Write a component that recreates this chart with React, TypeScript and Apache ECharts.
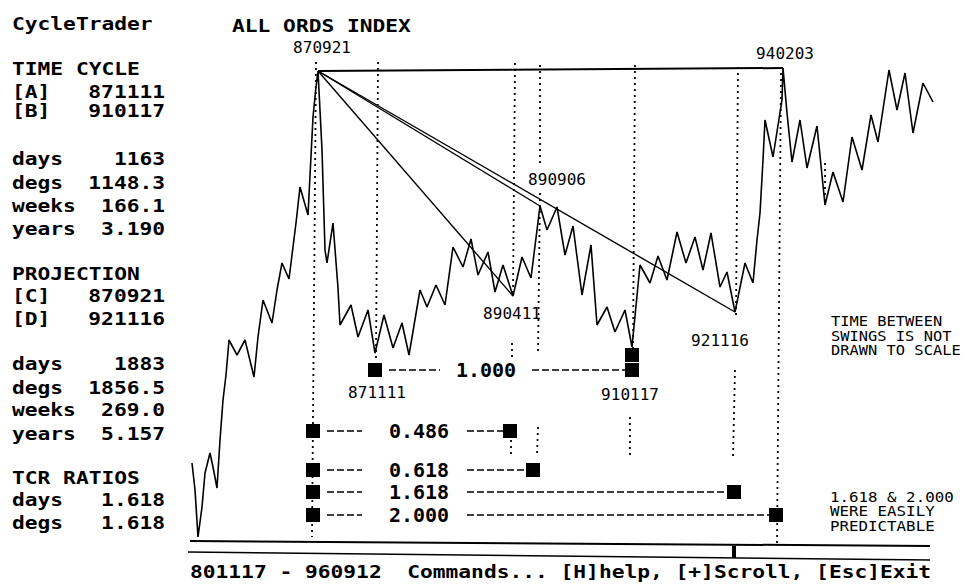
import React, { useEffect, useRef } from "react";
import * as echarts from "echarts";

// ---- DATA ----
// time index (chart units from 801117) and index level (chart units)
const priceT = [2,5,8,12,15,20,23,27,30,33,36,39,47,55,64,68,73,82,87,92,99,106,110,118,123,126,128,132,135,137,143,148,150,161,168,178,185,194,203,212,219,230,237,246,255,263,273,281,288,298,305,313,323,332,341,350,357,367,375,383,392,401,407,417,425,435,442,450,460,468,477,487,496,505,513,521,530,537,545,555,563,567,570,573,575,583,592,593,597,602,610,617,627,635,643,653,662,672,681,688,699,707,715,723,733,743];
const priceLevel = [82,55,8,38,72,92,78,57,105,145,170,205,190,205,168,208,245,222,255,282,266,322,358,330,428,458,474,395,295,282,322,257,220,240,208,235,192,230,197,222,190,255,238,260,240,298,278,306,270,293,253,280,249,288,267,339,315,338,290,319,250,300,220,238,213,235,198,280,262,289,265,313,282,308,275,312,258,273,233,282,262,305,332,385,425,388,445,477,432,383,425,377,419,340,373,343,408,375,430,403,475,435,472,412,462,443];

const swingNames = ["870921", "871111", "890411", "890906", "910117", "921116", "940203"];
const swingT = [128, 185, 323, 350, 442, 545, 593];

// dotted time markers: [tTop, levelTop, tBottom, levelBottom]
const dottedSegments = [
  [126, 483, 122, 8],
  [188, 483, 186, 185],
  [325, 482, 323, 249],
  [322, 202, 322, 188],
  [321, 105, 321, 90],
  [350, 480, 350, 380],
  [350, 352, 348, 193],
  [348, 118, 347, 90],
  [445, 480, 443, 195],
  [440, 128, 440, 88],
  [548, 478, 546, 228],
  [545, 175, 543, 88],
  [591, 472, 587, 2],
  [635, 382, 635, 345],
];

const ratioLabels = ["1.000", "0.486", "0.618", "1.618", "2.000"];
const ratioLevel = [175, 114, 75, 53, 30];
const ratioFromT = [185, 123, 123, 123, 123];
const ratioToT = [442, 320, 343, 544, 586];
const lowMarker = [442, 190];

const panelRows: [string, string][] = [
  ["CycleTrader", ""],
  ["TIME CYCLE", ""],
  ["[A]", "871111"],
  ["[B]", "910117"],
  ["days", "1163"],
  ["degs", "1148.3"],
  ["weeks", "166.1"],
  ["years", "3.190"],
  ["PROJECTION", ""],
  ["[C]", "870921"],
  ["[D]", "921116"],
  ["days", "1883"],
  ["degs", "1856.5"],
  ["weeks", "269.0"],
  ["years", "5.157"],
  ["TCR RATIOS", ""],
  ["days", "1.618"],
  ["degs", "1.618"],
];

const titleText = "ALL ORDS INDEX";
const footerText = "801117 - 960912  Commands... [H]help, [+]Scroll, [Esc]Exit";
const noteScale = ["TIME BETWEEN", "SWINGS IS NOT", "DRAWN TO SCALE"];
const notePredict = ["1.618 & 2.000", "WERE EASILY", "PREDICTABLE"];

// ---- LAYOUT / STYLE ----
const MONO = '"DejaVu Sans Mono", monospace';
const panelY = [24, 69, 92, 111, 159, 183, 206, 229, 274, 296, 319, 364, 388, 410, 434, 478, 500, 523];
const swingLabelOffsets = [[4, -24], [2, 39], [-1, 17], [17, -27], [-2, 47], [-15, 28], [2, -15]];
const rowTextT = [296, 229, 229, 229, 229];
const rowGapL = [46, 57, 57, 57, 57];
const rowGapR = [46, 48, 48, 48, 48];

function text(x: number, y: number, t: string, o: any = {}) {
  const align = o.align || "left";
  const va = o.va || "middle";
  return {
    type: "text",
    x,
    y,
    scaleX: o.scaleX ?? 1,
    silent: true,
    z: 10,
    style: {
      text: t,
      fill: "#000",
      fontFamily: MONO,
      fontSize: o.size ?? 18,
      fontWeight: o.weight ?? "bold",
      align,
      textAlign: align,
      verticalAlign: va,
      textVerticalAlign: va,
    },
  };
}

function buildOption() {
  const black = "#000";
  const lvl = (t: number) => priceLevel[priceT.indexOf(t)];
  const swingPts = swingT.map((t) => [t, lvl(t)]);
  const series: any[] = [];

  series.push({
    type: "line",
    name: "ALL ORDS",
    data: priceT.map((t, i) => [t, priceLevel[i]]),
    symbol: "none",
    lineStyle: { color: black, width: 1.6 },
    clip: false,
    silent: true,
    z: 3,
  });

  // top line (870921 -> 940203) and fan lines from 870921
  [6, 2, 3, 5].forEach((k) =>
    series.push({
      type: "line",
      data: [swingPts[0], swingPts[k]],
      symbol: "none",
      lineStyle: { color: black, width: k === 6 ? 2 : 1.4 },
      clip: false,
      silent: true,
      z: 2,
    })
  );

  dottedSegments.forEach((s) =>
    series.push({
      type: "line",
      data: [[s[0], s[1]], [s[2], s[3]]],
      symbol: "none",
      lineStyle: { color: black, width: 1.8, type: [2, 4] },
      clip: false,
      silent: true,
      z: 1,
    })
  );

  // ratio rows: dashed connectors
  ratioLabels.forEach((_, i) => {
    const lv = ratioLevel[i];
    const left = [[ratioFromT[i] + 14, lv], [rowTextT[i] - rowGapL[i], lv]];
    const right = [[rowTextT[i] + rowGapR[i], lv], [ratioToT[i] - 7, lv]];
    [left, right].forEach((d) =>
      series.push({
        type: "line",
        data: d,
        symbol: "none",
        lineStyle: { color: black, width: 1.5, type: [7, 3] },
        clip: false,
        silent: true,
        z: 2,
      })
    );
  });

  // squares
  const squares: number[][] = [];
  ratioLabels.forEach((_, i) => {
    squares.push([ratioFromT[i], ratioLevel[i]]);
    squares.push([ratioToT[i], ratioLevel[i]]);
  });
  squares.push(lowMarker);
  series.push({
    type: "scatter",
    data: squares,
    symbol: "rect",
    symbolSize: 14,
    itemStyle: { color: black, opacity: 1 },
    clip: false,
    silent: true,
    z: 5,
  });

  // ratio labels
  series.push({
    type: "scatter",
    data: ratioLabels.map((r, i) => ({ value: [rowTextT[i], ratioLevel[i]], name: r })),
    symbolSize: 1,
    itemStyle: { color: "rgba(0,0,0,0)", opacity: 1 },
    label: {
      show: true,
      position: "inside",
      formatter: (p: any) => p.name,
      color: black,
      opacity: 1,
      fontFamily: MONO,
      fontWeight: "bold",
      fontSize: 20,
    },
    clip: false,
    silent: true,
    z: 6,
  });

  // swing date labels
  series.push({
    type: "scatter",
    data: swingNames.map((n, i) => ({
      value: swingPts[i],
      name: n,
      label: { offset: swingLabelOffsets[i] },
    })),
    symbolSize: 1,
    itemStyle: { color: "rgba(0,0,0,0)", opacity: 1 },
    label: {
      show: true,
      position: "inside",
      formatter: (p: any) => p.name,
      color: black,
      opacity: 1,
      fontFamily: MONO,
      fontWeight: "normal",
      fontSize: 16,
    },
    clip: false,
    silent: true,
    z: 6,
  });

  const graphic: any[] = [];
  panelRows.forEach(([a, b], i) => {
    graphic.push(text(12, panelY[i], a, { scaleX: 1.18 }));
    if (b) graphic.push(text(165, panelY[i], b, { scaleX: 1.18, align: "right" }));
  });
  graphic.push(text(232, 26, titleText, { scaleX: 1.18 }));
  graphic.push(text(190, 572, footerText, { scaleX: 1.18 }));
  noteScale.forEach((s, i) =>
    graphic.push(text(831, 321 + i * 14.5, s, { size: 14, weight: "normal", scaleX: 1.1 }))
  );
  notePredict.forEach((s, i) =>
    graphic.push(text(830, 497 + i * 14.5, s, { size: 14, weight: "normal", scaleX: 1.13 }))
  );
  graphic.push({
    type: "line",
    silent: true,
    shape: { x1: 190, y1: 541, x2: 930, y2: 546 },
    style: { stroke: black, lineWidth: 2 },
  });
  graphic.push({
    type: "line",
    silent: true,
    shape: { x1: 188, y1: 552, x2: 930, y2: 560 },
    style: { stroke: black, lineWidth: 1.6 },
  });
  graphic.push({
    type: "rect",
    silent: true,
    shape: { x: 732, y: 546, width: 4, height: 12 },
    style: { fill: black },
  });

  return {
    animation: false,
    backgroundColor: "#fff",
    grid: { left: 190, top: 0, width: 774, height: 545 },
    xAxis: { type: "value", min: 0, max: 774, show: false, splitLine: { show: false } },
    yAxis: { type: "value", min: 0, max: 545, show: false, splitLine: { show: false } },
    series,
    graphic,
  };
}

export default function App() {
  const ref = useRef<HTMLDivElement>(null);
  useEffect(() => {
    const chart = echarts.init(ref.current!, null, { renderer: "svg" });
    chart.setOption(buildOption() as any);
    return () => chart.dispose();
  }, []);
  return (
    <div
      ref={ref}
      style={{ position: "fixed", left: 0, top: 0, width: 964, height: 585, background: "#fff" }}
    />
  );
}
